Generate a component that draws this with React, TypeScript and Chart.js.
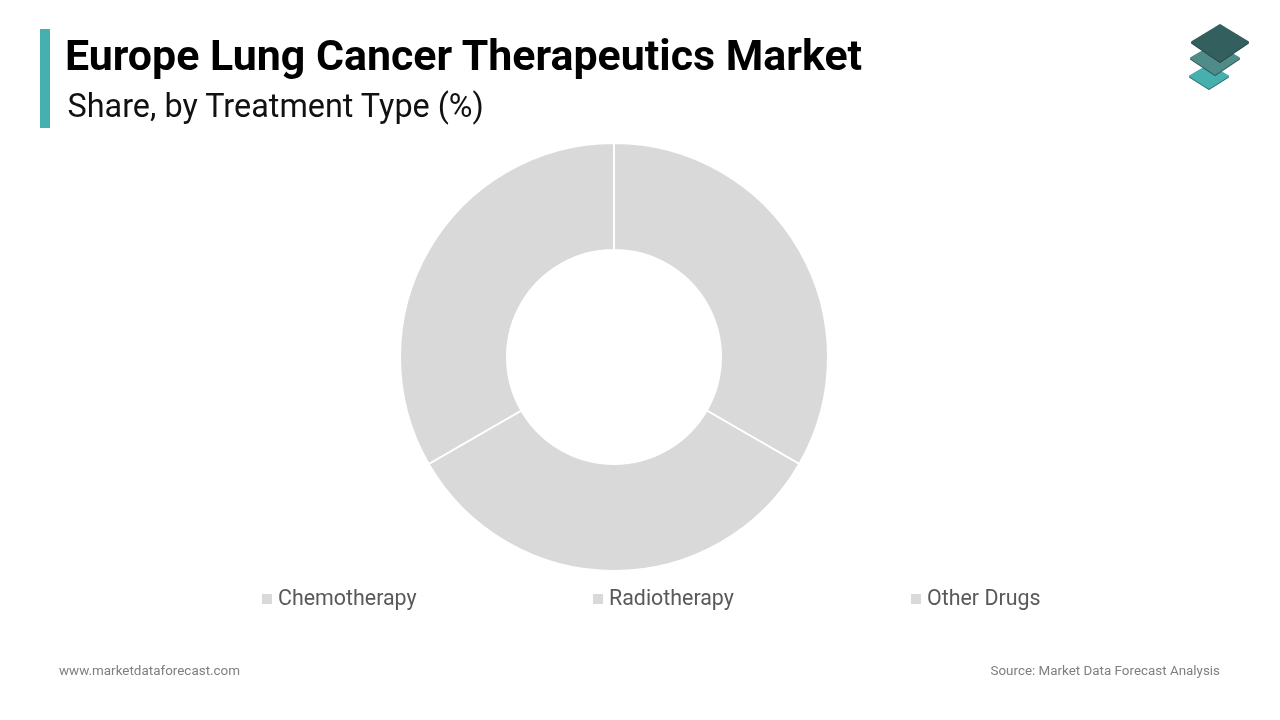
import React, { useEffect, useRef } from 'react';
import Chart from 'chart.js/auto';

const categories = ['Chemotherapy', 'Radiotherapy', 'Other Drugs'];
const shares = [33.33, 33.33, 33.33];
const sliceColor = '#d9d9d9';
const legendLefts = [262, 593, 911];

const App: React.FC = () => {
  const canvasRef = useRef<HTMLCanvasElement>(null);

  useEffect(() => {
    document.body.style.margin = '0';
    if (!canvasRef.current) return;

    const chart = new Chart(canvasRef.current, {
      type: 'doughnut',
      data: {
        labels: categories,
        datasets: [
          {
            data: shares,
            backgroundColor: sliceColor,
            borderColor: '#ffffff',
            borderWidth: 2
          }
        ]
      },
      options: {
        responsive: false,
        animation: false,
        cutout: '50%',
        layout: { padding: { top: 142, bottom: 148, left: 0, right: 52 } },
        plugins: {
          legend: { display: false },
          tooltip: { enabled: false }
        }
      }
    });

    return () => chart.destroy();
  }, []);

  return (
    <div style={{ position: 'relative', width: 1280, height: 720, background: '#fff', overflow: 'hidden', fontFamily: 'Roboto, sans-serif' }}>
      <canvas ref={canvasRef} width={1280} height={720} style={{ position: 'absolute', left: 0, top: 0 }}></canvas>

      <div style={{ position: 'absolute', left: 40, top: 29, width: 10, height: 99, background: '#45b0ae' }}></div>
      <div style={{ position: 'absolute', left: 65, top: 29, fontSize: 42.9, fontWeight: 700, lineHeight: '52px', color: '#000', whiteSpace: 'nowrap' }}>
        Europe Lung Cancer Therapeutics Market
      </div>
      <div style={{ position: 'absolute', left: 67.5, top: 87, fontSize: 32.4, lineHeight: '38px', color: '#111', whiteSpace: 'nowrap' }}>
        Share, by Treatment Type (%)
      </div>

      <svg style={{ position: 'absolute', left: 1170, top: 10 }} width={100} height={90} viewBox="0 0 100 90">
        <path d="M20 67 L39 56 L58 67 L39 79 Z" fill="#2f6664" stroke="#2f6664" strokeWidth={2} strokeLinejoin="round" />
        <path d="M20 66 L39 55 L58 66 L39 78 Z" fill="#45b0ae" stroke="#45b0ae" strokeWidth={2} strokeLinejoin="round" />
        <path d="M21 49 L45 35 L69 49 L45 65 Z" fill="#2f4f4d" stroke="#2f4f4d" strokeWidth={2} strokeLinejoin="round" />
        <path d="M21 48 L45 34 L69 48 L45 64 Z" fill="#4f8b88" stroke="#4f8b88" strokeWidth={2} strokeLinejoin="round" />
        <path d="M22 33 L50 16 L78 33 L50 52 Z" fill="#264442" stroke="#264442" strokeWidth={2} strokeLinejoin="round" />
        <path d="M22 32 L50 15 L78 32 L50 51 Z" fill="#33605e" stroke="#33605e" strokeWidth={2} strokeLinejoin="round" />
      </svg>

      {categories.map((name, i) => (
        <div key={name} style={{ position: 'absolute', left: legendLefts[i], top: 584, height: 26, display: 'flex', alignItems: 'center', whiteSpace: 'nowrap' }}>
          <span style={{ display: 'inline-block', width: 10, height: 10, background: sliceColor, marginRight: 6, marginTop: 4 }}></span>
          <span style={{ fontSize: 21.4, color: '#595959' }}>{name}</span>
        </div>
      ))}

      <div style={{ position: 'absolute', left: 59, top: 663, fontSize: 13.45, lineHeight: '16px', color: '#7f7f7f', whiteSpace: 'nowrap' }}>
        www.marketdataforecast.com
      </div>
      <div style={{ position: 'absolute', right: 60, top: 663, fontSize: 13.4, lineHeight: '16px', color: '#7f7f7f', whiteSpace: 'nowrap' }}>
        Source: Market Data Forecast Analysis
      </div>
    </div>
  );
};

export default App;
